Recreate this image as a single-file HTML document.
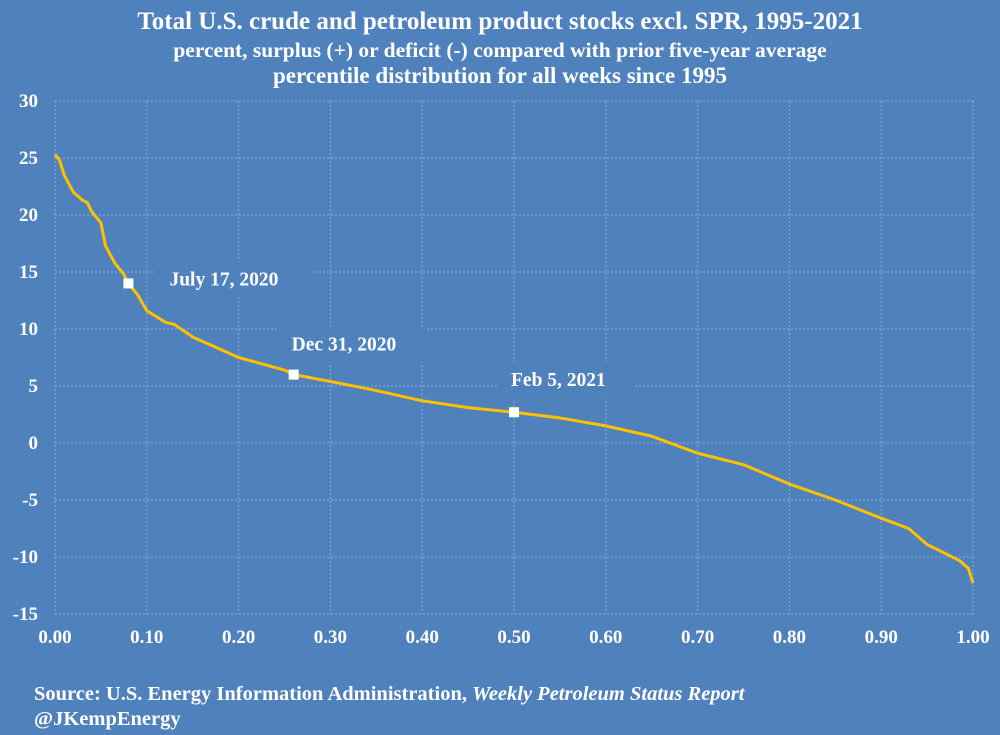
<!DOCTYPE html>
<html><head><meta charset="utf-8"><style>
body{margin:0;background:#4f81bd;}
svg{display:block;font-family:"Liberation Serif",serif;font-weight:bold;}
</style></head><body>
<svg width="1000" height="735">
<rect width="1000" height="735" fill="#4f81bd"/>
<text x="500" y="29" text-anchor="middle" fill="#fff" font-size="25">Total U.S. crude and petroleum product stocks excl. SPR, 1995-2021</text>
<text x="500" y="57" text-anchor="middle" fill="#fff" font-size="21.5">percent, surplus (+) or deficit (-) compared with prior five-year average</text>
<text x="500" y="83" text-anchor="middle" fill="#fff" font-size="23">percentile distribution for all weeks since 1995</text>
<g id="grid"></g><g id="axes"></g><g id="labels"></g><g id="series"></g>
<text x="34" y="700" fill="#fff" font-size="20.5">Source: U.S. Energy Information Administration, <tspan font-style="italic">Weekly Petroleum Status Report</tspan></text>
<text x="34" y="725" fill="#fff" font-size="20.5">@JKempEnergy</text>
</svg>
<script>
const xs=[0,0.005,0.01,0.02,0.03,0.035,0.04,0.05,0.055,0.065,0.075,0.08,0.09,0.1,0.12,0.13,0.15,0.2,0.25,0.26,0.3,0.35,0.4,0.45,0.5,0.55,0.6,0.65,0.7,0.75,0.8,0.85,0.9,0.93,0.95,0.97,0.985,0.995,1.0];
const ys=[25.3,24.8,23.5,22,21.3,21.1,20.3,19.3,17.3,15.8,14.8,14,13,11.6,10.6,10.4,9.3,7.5,6.4,6.0,5.4,4.6,3.7,3.1,2.7,2.2,1.5,0.6,-0.9,-1.9,-3.6,-5.0,-6.6,-7.5,-8.9,-9.7,-10.3,-11,-12.3];
const yTicks=[30,25,20,15,10,5,0,-5,-10,-15];
const xTicks=[0,0.1,0.2,0.3,0.4,0.5,0.6,0.7,0.8,0.9,1.0];
const markerLabels=["July 17, 2020","Dec 31, 2020","Feb 5, 2021"];
const markerX=[0.08,0.26,0.5];
const markerY=[14,6.0,2.7];
const NS="http://www.w3.org/2000/svg";
const X=v=>55+v*918, Y=v=>443-v*11.4;
function mk(t,a,p){const e=document.createElementNS(NS,t);for(const k in a)e.setAttribute(k,a[k]);p.appendChild(e);return e;}
const g=document.getElementById('grid'),ax=document.getElementById('axes'),lb=document.getElementById('labels'),s=document.getElementById('series');
yTicks.forEach(v=>{const l=mk('line',{x1:55,x2:973,y1:Y(v),y2:Y(v),stroke:'#8eaad3','stroke-width':1,'stroke-dasharray':'2,2'},g);

const t=mk('text',{x:38,y:Y(v)+6,'text-anchor':'end',fill:'#fff','font-size':19},ax);t.textContent=v;
});
xTicks.forEach(v=>{const l=mk('line',{x1:X(v),x2:X(v),y1:Y(30),y2:Y(-15),stroke:'#8eaad3','stroke-width':1,'stroke-dasharray':'2,2'},g);

const t=mk('text',{x:X(v),y:643,'text-anchor':'middle',fill:'#fff','font-size':19},ax);t.textContent=v.toFixed(2);
});
const line=mk('polyline',{points:xs.map((x,i)=>X(x)+','+Y(ys[i])).join(' '),fill:'none',stroke:'#ffc000','stroke-width':3,'stroke-linejoin':'round'},s);

markerX.forEach((mx,i)=>{const px=X(mx),py=Y(markerY[i]);
const w=markerLabels[i].length*10+28;
const bx=(i==0)?px+27:(i==1?px-16:px-17), by=(i==0)?py-22:(i==1?py-48:py-50);
const r=mk('rect',{x:bx,y:by,width:w,height:36,fill:'#4f81bd'},lb);

const t=mk('text',{x:bx+14,y:by+24,fill:'#fff','font-size':19.5},lb);t.textContent=markerLabels[i];

const m=mk('rect',{x:px-5,y:py-5,width:10,height:10,fill:'#fff'},s);
});
</script>
</body></html>
